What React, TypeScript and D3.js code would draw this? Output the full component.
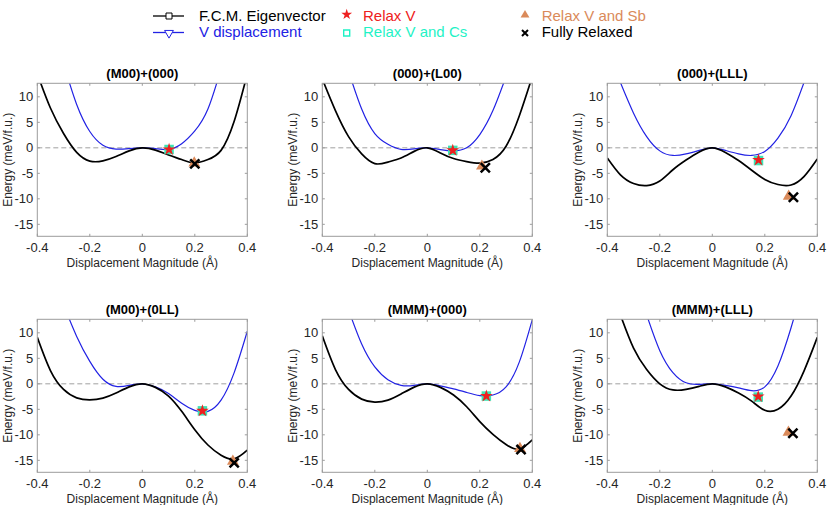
import React from 'react';
import * as d3 from 'd3';

// sample positions (Å) shared by every curve
const xGrid = [-0.4, -0.35, -0.3, -0.25, -0.2, -0.15, -0.1, -0.05, 0, 0.05, 0.1, 0.15, 0.2, 0.25, 0.3, 0.35, 0.4];

const panelTitles = ['(M00)+(000)', '(000)+(L00)', '(000)+(LLL)', '(M00)+(0LL)', '(MMM)+(000)', '(MMM)+(LLL)'];

// F.C.M. Eigenvector energies (meV/f.u.)
const fcmM00_000 = [14.5, 7.8, 2.8, -0.9, -2.6, -2.55, -1.7, -0.6, 0, -0.45, -1.4, -2.3, -2.95, -2.3, -0.5, 5.2, 14.5];
const fcm000_L00 = [13.5, 7.3, 2.2, -1.2, -3.1, -2.8, -2.0, -0.7, 0, -1.0, -2.1, -2.7, -3.0, -2.3, 0.3, 6.2, 14.0];
const fcm000_LLL = [-2.0, -5.3, -7.0, -7.4, -6.5, -4.3, -2.4, -0.8, 0, -0.9, -2.5, -4.4, -6.2, -7.2, -7.3, -5.6, -2.2];
const fcmM00_0LL = [9.1, 2.6, -1.1, -2.75, -3.15, -2.8, -1.8, -0.6, 0, -0.7, -2.4, -5.4, -9.0, -12.0, -14.0, -14.7, -13.0];
const fcmMMM_000 = [9.4, 2.8, -1.1, -3.0, -3.6, -3.2, -2.0, -0.65, 0, -0.7, -2.2, -4.5, -7.4, -9.9, -11.9, -12.8, -11.0];
const fcmMMM_LLL = [null, 13.5, 7.0, 2.8, 0.0, -1.2, -1.1, -0.5, 0, -0.6, -1.8, -3.4, -5.2, -5.0, -2.4, 2.6, 9.1];

// V displacement energies (meV/f.u.)
const vdM00_000 = [null, null, 16.5, 8.5, 3.2, 0.5, -0.25, -0.15, 0, -0.15, -0.33, 0.8, 3.3, 7.6, 15.5, null, null];
const vd000_L00 = [null, null, 15.0, 7.6, 2.8, 0.7, -0.3, -0.2, 0, -0.35, -0.6, 0.0, 2.6, 7.3, 14.0, null, null];
const vd000_LLL = [null, 12.8, 6.8, 2.2, -0.6, -1.5, -1.2, -0.5, 0, -0.5, -1.2, -1.5, -0.7, 1.9, 6.3, 12.9, null];
const vdM00_0LL = [null, null, 15.5, 9.3, 4.4, 0.9, -0.5, -0.3, 0, -0.6, -1.9, -3.8, -5.2, -5.4, -3.2, 2.2, 10.3];
const vdMMM_000 = [null, null, 14.5, 7.8, 3.3, 0.8, -0.3, -0.3, 0, -0.4, -1.0, -1.7, -2.3, -2.2, -0.6, 4.2, 12.6];
const vdMMM_LLL = [null, null, null, 13.5, 6.5, 2.2, 0.2, -0.1, 0, -0.3, -0.8, -1.35, -0.6, 3.5, 11.0, 20.0, null];

// relaxed points [displacement, energy], one per panel
const relaxV = [[0.102, -0.33], [0.097, -0.5], [0.176, -2.4], [0.229, -5.3], [0.225, -2.4], [0.175, -2.5]];
const relaxVCs = [[0.102, -0.33], [0.097, -0.5], [0.176, -2.5], [0.229, -5.3], [0.225, -2.4], [0.175, -2.6]];
const relaxVSb = [[0.198, -3.0], [0.208, -3.6], [0.291, -9.5], [0.345, -15.2], [0.353, -12.7], [0.29, -9.5]];
const fullyRelaxed = [[0.2, -3.15], [0.221, -3.9], [0.309, -9.7], [0.35, -15.5], [0.357, -12.9], [0.307, -9.7]];

const xTicks = [-0.4, -0.2, 0, 0.2, 0.4];
const yTicks = [-15, -10, -5, 0, 5, 10];

const fcmSeries = [fcmM00_000, fcm000_L00, fcm000_LLL, fcmM00_0LL, fcmMMM_000, fcmMMM_LLL];
const vdSeries = [vdM00_000, vd000_L00, vd000_LLL, vdM00_0LL, vdMMM_000, vdMMM_LLL];

const W = 210;
const H = 153;
const colX = [37.3, 322.3, 607.3];
const rowY = [83.3, 319.3];

const FONT = '"Liberation Sans", Arial, Helvetica, sans-serif';
const BLUE = '#2222e4';
const RED = '#ee2020';
const CYAN_FILL = '#3de3b3';
const CYAN_TEXT = '#1ff2c6';
const ORANGE = '#da8a5a';
const AXIS = '#9c9c9c';
const TICKTXT = '#262626';

const starPath = d3.symbol(d3.symbolStar, 50)() as string;
const squarePath = d3.symbol(d3.symbolSquare, 90)() as string;
const triPath = d3.symbol(d3.symbolTriangle, 60)() as string;
const crossPath = 'M-4.6,-4.6L4.6,4.6M-4.6,4.6L4.6,-4.6';

function Panel({ i }: { i: number }) {
  const left = colX[i % 3];
  const top = rowY[Math.floor(i / 3)];
  const x = d3.scaleLinear().domain([-0.4, 0.4]).range([0, W]);
  const y = d3.scaleLinear().domain([-17.35, 12.65]).range([H, 0]);

  const line = d3
    .line<[number, number | null]>()
    .defined((d) => d[1] != null)
    .x((d) => x(d[0]))
    .y((d) => y(d[1] as number))
    .curve(d3.curveNatural);

  const pts = (s: (number | null)[]) => xGrid.map((xv, k) => [xv, s[k]] as [number, number | null]);
  const clipId = `clip-${i}`;
  const tl = 2.5;

  return (
    <g transform={`translate(${left},${top})`}>
      <defs>
        <clipPath id={clipId}>
          <rect x={0} y={0} width={W} height={H} />
        </clipPath>
      </defs>
      <text x={W / 2} y={-5} textAnchor="middle" fontWeight="bold" fontSize={13} fill="#000">
        {panelTitles[i]}
      </text>

      <line x1={0} x2={W} y1={y(0)} y2={y(0)} stroke="#a0a0a0" strokeWidth={1} strokeDasharray="5,3" />

      <g clipPath={`url(#${clipId})`}>
        <path d={line(pts(vdSeries[i])) || ''} fill="none" stroke={BLUE} strokeWidth={1.2} />
        <path d={line(pts(fcmSeries[i])) || ''} fill="none" stroke="#000" strokeWidth={1.7} />
      </g>

      <path d={squarePath} transform={`translate(${x(relaxVCs[i][0])},${y(relaxVCs[i][1])})`} fill={CYAN_FILL} />
      <path d={starPath} transform={`translate(${x(relaxV[i][0])},${y(relaxV[i][1])})`} fill={RED} />
      <path d={triPath} transform={`translate(${x(relaxVSb[i][0])},${y(relaxVSb[i][1])})`} fill={ORANGE} />
      <path
        d={crossPath}
        transform={`translate(${x(fullyRelaxed[i][0])},${y(fullyRelaxed[i][1])})`}
        stroke="#000"
        strokeWidth={2.5}
        fill="none"
      />

      <rect x={0} y={0} width={W} height={H} fill="none" stroke={AXIS} strokeWidth={1} />
      {xTicks.map((t) => (
        <g key={`x${t}`}>
          <line x1={x(t)} x2={x(t)} y1={H} y2={H - tl} stroke={AXIS} />
          <line x1={x(t)} x2={x(t)} y1={0} y2={tl} stroke={AXIS} />
          <text x={x(t)} y={H + 16} textAnchor="middle" fontSize={13} fill={TICKTXT}>
            {String(t)}
          </text>
        </g>
      ))}
      {yTicks.map((t) => (
        <g key={`y${t}`}>
          <line x1={0} x2={tl} y1={y(t)} y2={y(t)} stroke={AXIS} />
          <line x1={W} x2={W - tl} y1={y(t)} y2={y(t)} stroke={AXIS} />
          <text x={-4} y={y(t)} dy="0.35em" textAnchor="end" fontSize={13} fill={TICKTXT}>
            {String(t)}
          </text>
        </g>
      ))}
      <text x={W / 2} y={H + 31} textAnchor="middle" fontSize={12} fill={TICKTXT}>
        Displacement Magnitude (Å)
      </text>
      <text
        transform={`translate(-30,${H / 2}) rotate(-90)`}
        dy="0.35em"
        textAnchor="middle"
        fontSize={12}
        fill={TICKTXT}
      >
        Energy (meV/f.u.)
      </text>
    </g>
  );
}

function Legend() {
  const legendSquare = d3.symbol(d3.symbolSquare, 36)() as string;
  const legendTri = d3.symbol(d3.symbolTriangle, 34)() as string;
  const legendStar = d3.symbol(d3.symbolStar, 36)() as string;
  return (
    <g fontSize={15}>
      <line x1={153} x2={184} y1={16} y2={16} stroke="#000" strokeWidth={1.3} />
      <path d={legendSquare} transform="translate(169,16)" fill="#fff" stroke="#000" strokeWidth={1} />
      <text x={199} y={20.7} fill="#000">F.C.M. Eigenvector</text>

      <line x1={153} x2={184} y1={32.5} y2={32.5} stroke={BLUE} strokeWidth={1.3} />
      <path d={legendTri} transform="translate(169,33) rotate(180)" fill="#fff" stroke={BLUE} strokeWidth={1} />
      <text x={199} y={37.3} fill={BLUE}>V displacement</text>

      <path d={legendStar} transform="translate(346.7,14.5)" fill={RED} />
      <text x={363} y={20.7} fill={RED}>Relax V</text>

      <path d={legendSquare} transform="translate(346.7,33)" fill="#fff" stroke={CYAN_TEXT} strokeWidth={1.4} />
      <text x={363} y={37.3} fill={CYAN_TEXT}>Relax V and Cs</text>

      <path d={legendTri} transform="translate(525,15)" fill={ORANGE} />
      <text x={541.7} y={20.7} fill={ORANGE}>Relax V and Sb</text>

      <path d="M-3,-3L3,3M-3,3L3,-3" transform="translate(525,33)" stroke="#000" strokeWidth={2} />
      <text x={541.7} y={37.3} fill="#000">Fully Relaxed</text>
    </g>
  );
}

export default function App() {
  return (
    <div style={{ position: 'absolute', left: 0, top: 0 }}>
      <svg width={830} height={505} style={{ display: 'block', fontFamily: FONT, background: '#fff' }}>
        <Legend />
        {panelTitles.map((_, i) => (
          <Panel key={i} i={i} />
        ))}
      </svg>
    </div>
  );
}
